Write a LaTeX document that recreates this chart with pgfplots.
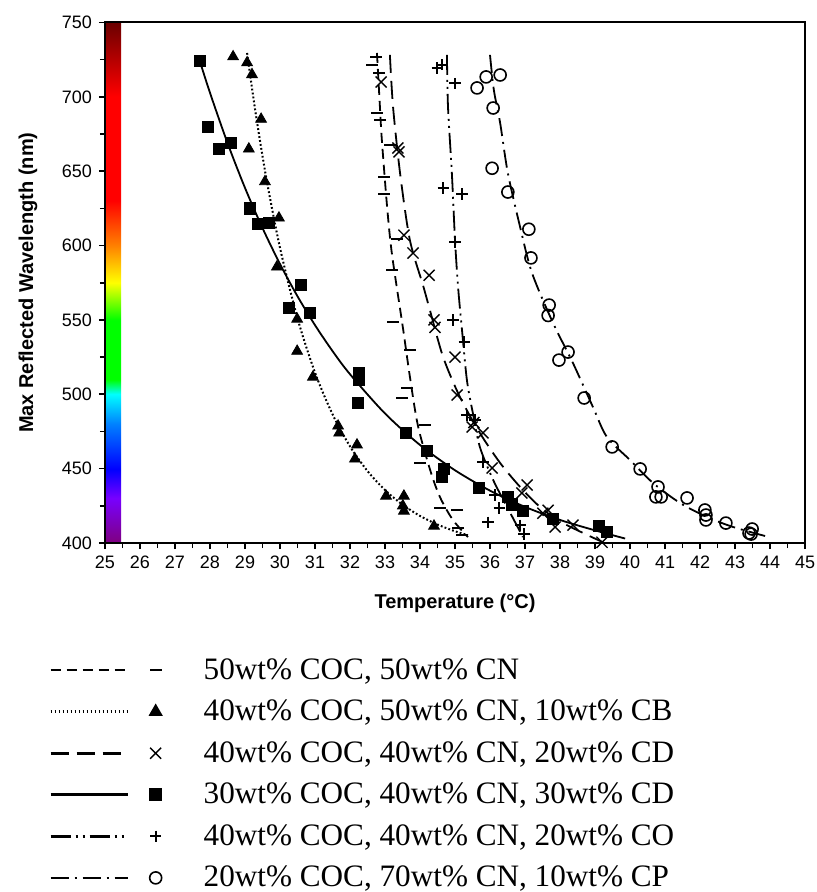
\documentclass[border=0pt]{standalone}
\usepackage{fontspec}
\setmainfont{Liberation Sans}
\newfontfamily\legendfont{Liberation Serif}
\usepackage{pgfplots}
\pgfplotsset{compat=1.18}

% wavelength colour strip, 25bp..75bp maps to 400..750 nm
\pgfdeclareverticalshading{spectrum}{100bp}{
  rgb(0bp)=(0.5,0,0.5); rgb(25bp)=(0.5,0,0.5); rgb(29.3bp)=(0.47,0,1);
  rgb(32.1bp)=(0,0,1); rgb(36.4bp)=(0,0.5,1); rgb(39.3bp)=(0,1,1);
  rgb(40.7bp)=(0,1,0); rgb(46.4bp)=(0,1,0); rgb(50bp)=(1,1,0);
  rgb(53.6bp)=(1,0.5,0); rgb(57.9bp)=(1,0,0); rgb(67.9bp)=(1,0,0);
  rgb(75bp)=(0.42,0,0); rgb(100bp)=(0.42,0,0)}

\tikzset{
  s50/.style={line width=0.9pt, dash pattern=on 5pt off 3pt},
  s40b/.style={line width=1pt, dash pattern=on 0.9pt off 1.1pt},
  s40d/.style={line width=0.9pt, dash pattern=on 9pt off 4pt},
  s30/.style={line width=0.9pt, solid},
  s40o/.style={line width=0.9pt, dash pattern=on 10pt off 2.5pt on 1pt off 2.5pt on 1pt off 2.5pt},
  s20/.style={line width=0.9pt, dash pattern=on 9pt off 3pt on 1pt off 3pt},
  m50/.style={mark=-, mark size=3pt, line width=1pt},
  m40b/.style={mark=triangle*, mark size=3.1pt},
  m40d/.style={mark=x, mark size=3.9pt, line width=0.7pt},
  m30/.style={mark=square*, mark size=2.8pt},
  m40o/.style={mark=+, mark size=2.8pt, line width=1pt},
  m20/.style={mark=o, mark size=3pt, line width=0.8pt},
}

\begin{document}
\begin{tikzpicture}
\path[use as bounding box] (-52.5pt,-174.5pt) rectangle (355.5pt,271.5pt);
\begin{axis}[
  at={(0,0)}, anchor=south west,
  width=350pt, height=260.25pt, scale only axis,
  xmin=25, xmax=45, ymin=400, ymax=750,
  xtick={25,26,...,45}, ytick={400,450,...,750},
  minor x tick num=1, minor y tick num=1,
  tick align=outside, xtick pos=bottom, ytick pos=left,
  major tick length=3pt, minor tick length=2.5pt,
  tick style={line width=0.8pt, black},
  axis line style={line width=1pt},
  axis on top,
  ticklabel style={font=\fontsize{9}{10}\selectfont},
  /pgf/number format/assume math mode=true,
  xlabel={\bfseries Temperature (°C)},
  ylabel={\bfseries Max Reflected Wavelength (nm)},
  label style={font=\fontsize{10}{12}\selectfont},
  every axis x label/.style={at={(axis description cs:0.5,-0.115)}, anchor=center},
  every axis y label/.style={at={(axis description cs:-0.11,0.5)}, anchor=center, rotate=90},
  legend style={at={(axis description cs:-0.0886,-0.213)}, anchor=north west,
    draw=none, fill=none, font=\legendfont\fontsize{15.6}{18}\selectfont,
    row sep=8.9pt, column sep=21pt, nodes={inner sep=0pt}},
  legend cell align=left,
  legend image code/.code={
    \draw[#1, mark=none, line width=1.3pt] (0pt,0pt) -- (38.5pt,0pt);
    \draw[#1, solid] plot[only marks] coordinates {(52.5pt,0pt)};
  },
]
\shade[shading=spectrum] (axis cs:25,400) rectangle (axis cs:25.46,750);

% fitted curves
\addplot[s50, forget plot, smooth] coordinates {
 (32.77,729.5)(32.86,691.2)(32.91,671.0)(33.06,626.0)(33.20,594.0)
 (33.51,545.0)(33.71,512.0)(33.94,479.0)(34.29,449.1)(34.57,430.9)(34.94,415.5)(35.37,404.0)};
\addplot[s40b, forget plot, smooth] coordinates {
 (29.06,729.5)(29.30,689.7)(29.60,646.5)(30.00,598.5)(30.50,551.1)(31.00,514.6)
 (31.50,486.6)(32.00,465.0)(32.50,448.4)(33.00,435.6)(33.50,425.8)(34.00,418.2)
 (34.50,412.4)(35.00,407.9)(35.37,405.3)};
\addplot[s40d, forget plot, smooth] coordinates {
 (33.14,728.2)(33.23,693.2)(33.43,648.8)(33.71,603.8)(34.09,573.0)(34.29,556.0)
 (34.66,525.1)(35.14,498.2)(35.71,474.0)(36.29,453.8)(36.86,437.7)(37.43,424.2)
 (38.00,414.5)(38.77,405.5)(39.23,400.5)};
\addplot[s30, forget plot, smooth] coordinates {
 (27.71,724.0)(28.00,702.7)(28.50,669.0)(29.00,638.8)(29.50,611.8)(30.00,587.6)
 (30.50,565.9)(31.00,546.5)(31.50,529.1)(32.00,513.5)(33.00,487.1)(34.00,465.9)
 (35.00,448.9)(36.00,435.2)(37.00,424.3)(38.00,415.5)(39.00,408.5)(39.86,403.0)};
\addplot[s40o, forget plot, smooth] coordinates {
 (34.77,728.2)(34.80,693.2)(34.91,648.8)(35.00,603.8)(35.09,571.5)(35.20,543.2)
 (35.34,509.6)(35.51,487.4)(35.71,464.6)(36.09,442.4)(36.49,424.2)(36.94,404.0)};
\addplot[s20, forget plot, smooth] coordinates {
 (36.00,728.2)(36.11,704.6)(36.29,682.4)(36.51,648.8)(36.86,612.5)(37.20,581.6)
 (37.80,548.0)(38.37,521.0)(38.94,491.5)(39.34,471.3)(40.00,455.8)(40.66,440.3)
 (41.43,426.9)(42.20,417.5)(42.94,410.8)(43.86,404.7)};

% measured points
\addplot[m50, only marks, forget plot] coordinates {
 (32.74,727)(32.63,721.5)(32.83,716)(32.77,689)(32.86,684.5)(33.14,667.7)(32.97,646)
 (32.97,635)(33.34,604.4)(33.20,583.6)(33.23,548.6)(33.71,529.8)(33.63,504)(33.49,497.5)
 (34.14,479.4)(34.00,453.8)(34.57,423.5)(35.06,422)(35.09,410)(35.20,405.4)};
\addplot[m40b, only marks, forget plot] coordinates {
 (28.66,727)(29.06,723)(29.20,715)(29.46,685)(29.11,665)(29.57,643)(29.97,618.6)
 (29.91,585.6)(30.49,550.6)(30.49,529)(30.94,511.6)(31.66,478.7)(31.69,474)
 (32.20,466)(32.14,456.5)(33.03,431.6)(33.54,431.6)(33.51,425)(33.54,421.5)(34.40,411.4)};
\addplot[m40d, only marks, forget plot] coordinates {
 (32.89,710)(33.37,665.6)(33.40,663)(33.54,607)(33.80,595)(34.26,580)(34.40,550)
 (34.43,545)(35.00,525)(35.06,499.5)(35.49,478)(35.54,481)(35.80,474)(36.06,450.4)
 (36.91,433.6)(37.06,439)(37.51,420)(37.66,422)(37.86,410.8)(38.37,412)(39.20,400.5)};
\addplot[m30, only marks, forget plot] coordinates {
 (27.71,724)(27.94,680)(28.26,665)(28.60,669)(29.14,625)(29.37,614.5)(29.69,615)
 (30.26,558)(30.60,573.5)(30.86,554.7)(32.26,514)(32.26,510)(32.23,494)(33.60,474)
 (34.20,462)(34.69,450)(34.63,444.4)(35.69,437)(36.51,431)(36.63,426)(36.94,421.5)
 (37.80,416)(39.11,411.4)(39.34,407.4)};
\addplot[m40o, only marks, forget plot] coordinates {
 (34.49,719.4)(34.63,721.5)(35.00,709)(34.66,638.7)(35.20,634.7)(35.00,602.4)
 (34.94,550)(35.26,535.2)(35.34,486)(35.57,482.7)(35.80,454.5)(36.14,432.3)
 (36.26,423.5)(35.94,414)(36.86,412)(36.97,406)};
\addplot[m20, only marks, forget plot] coordinates {
 (35.63,706)(35.89,713.4)(36.29,714.7)(36.09,692.5)(36.06,652)(36.51,636)(37.11,611)
 (37.17,591.7)(37.69,560)(37.66,553)(38.23,528.4)(37.97,523)(38.69,497.5)(39.49,464.6)
 (40.29,449.8)(40.80,437.7)(40.74,431)(40.89,431)(41.63,430.3)(42.14,422.2)(42.17,418.8)
 (42.17,415.5)(42.74,413.4)(43.49,409.4)(43.40,406.7)(43.46,406)};

\addlegendimage{s50, m50}
\addlegendentry{50wt\% COC, 50wt\% CN}
\addlegendimage{s40b, m40b}
\addlegendentry{40wt\% COC, 50wt\% CN, 10wt\% CB}
\addlegendimage{s40d, m40d}
\addlegendentry{40wt\% COC, 40wt\% CN, 20wt\% CD}
\addlegendimage{s30, m30}
\addlegendentry{30wt\% COC, 40wt\% CN, 30wt\% CD}
\addlegendimage{s40o, m40o}
\addlegendentry{40wt\% COC, 40wt\% CN, 20wt\% CO}
\addlegendimage{s20, m20}
\addlegendentry{20wt\% COC, 70wt\% CN, 10wt\% CP}
\end{axis}
\end{tikzpicture}
\end{document}
